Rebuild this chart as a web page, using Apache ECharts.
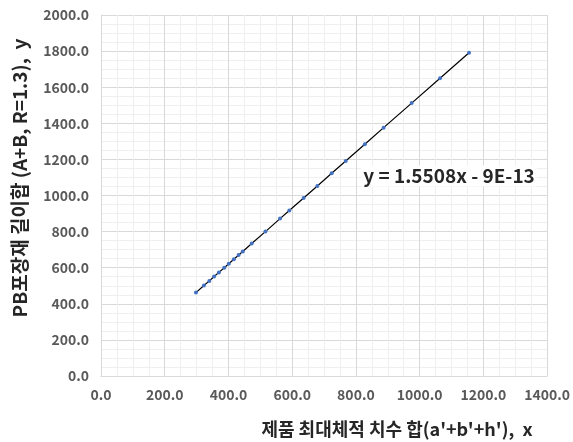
<!DOCTYPE html>
<html>
<head>
<meta charset="utf-8">
<script src="https://cdn.jsdelivr.net/npm/echarts@6/dist/echarts.min.js"></script>
<style>
html,body{margin:0;padding:0;background:#fff;}
#chart{width:573px;height:442px;}
</style>
</head>
<body>
<div id="chart"></div>
<script>
var xValues = [298, 323, 340, 355, 370, 387, 401, 417, 432, 445, 473, 516, 562, 591, 636, 679, 724, 768, 828, 887, 975, 1064, 1155];
var yValues = [462, 501, 527, 551, 574, 600, 622, 647, 670, 690, 734, 800, 872, 917, 986, 1053, 1123, 1191, 1284, 1376, 1512, 1650, 1791];
var xTitle = "제품 최대체적 치수 합(a'+b'+h'),  x";
var yTitle = "PB포장재 길이합 (A+B, R=1.3),  y";
var equation = "y = 1.5508x - 9E-13";

var pts = xValues.map(function (x, i) { return [x, yValues[i]]; });
var font = "Noto Sans CJK KR";

var chart = echarts.init(document.getElementById('chart'), null, {renderer: 'canvas'});
var axisCommon = {
  type: 'value',
  min: 0,
  interval: 200,
  axisLine: {show: true, lineStyle: {color: '#d9d9d9'}},
  axisTick: {show: false},
  minorTick: {show: false, splitNumber: 4},
  splitLine: {show: true, lineStyle: {color: '#d9d9d9', width: 1}},
  minorSplitLine: {show: true, lineStyle: {color: '#efefef', width: 1}},
  axisLabel: {
    color: '#595959', fontSize: 14, fontWeight: 'bold', fontFamily: font,
    formatter: function (v) { return v.toFixed(1); }
  }
};
chart.setOption({
  animation: false,
  grid: {left: 101, right: 22, top: 15, bottom: 66, containLabel: false},
  xAxis: Object.assign({}, axisCommon, {max: 1400, axisLabel: Object.assign({}, axisCommon.axisLabel, {margin: 12})}),
  yAxis: Object.assign({}, axisCommon, {max: 2000, axisLabel: Object.assign({}, axisCommon.axisLabel, {margin: 12})}),
  series: [{
    type: 'line',
    data: pts,
    symbol: 'circle',
    symbolSize: 4,
    showSymbol: true,
    lineStyle: {color: '#000', width: 1.2},
    itemStyle: {color: '#4472c4'},
    z: 3
  }],
  graphic: [
    {type: 'text', z: 10, style: {text: xTitle, x: 397, y: 429, align: 'center', verticalAlign: 'middle', fontSize: 18, fontWeight: 'bold', fontFamily: font, fill: '#262626'}},
    {type: 'text', z: 10, x: 20, y: 178, rotation: Math.PI / 2, style: {text: yTitle, x: 0, y: 0, align: 'center', verticalAlign: 'middle', fontSize: 19, fontWeight: 'bold', fontFamily: font, fill: '#262626'}},
    {type: 'text', z: 10, style: {text: equation, x: 449, y: 176, align: 'center', verticalAlign: 'middle', fontSize: 19, fontWeight: 'bold', fontFamily: font, fill: '#262626', backgroundColor: '#ffffff', padding: [1, 2]}}
  ]
});
</script>
</body>
</html>
